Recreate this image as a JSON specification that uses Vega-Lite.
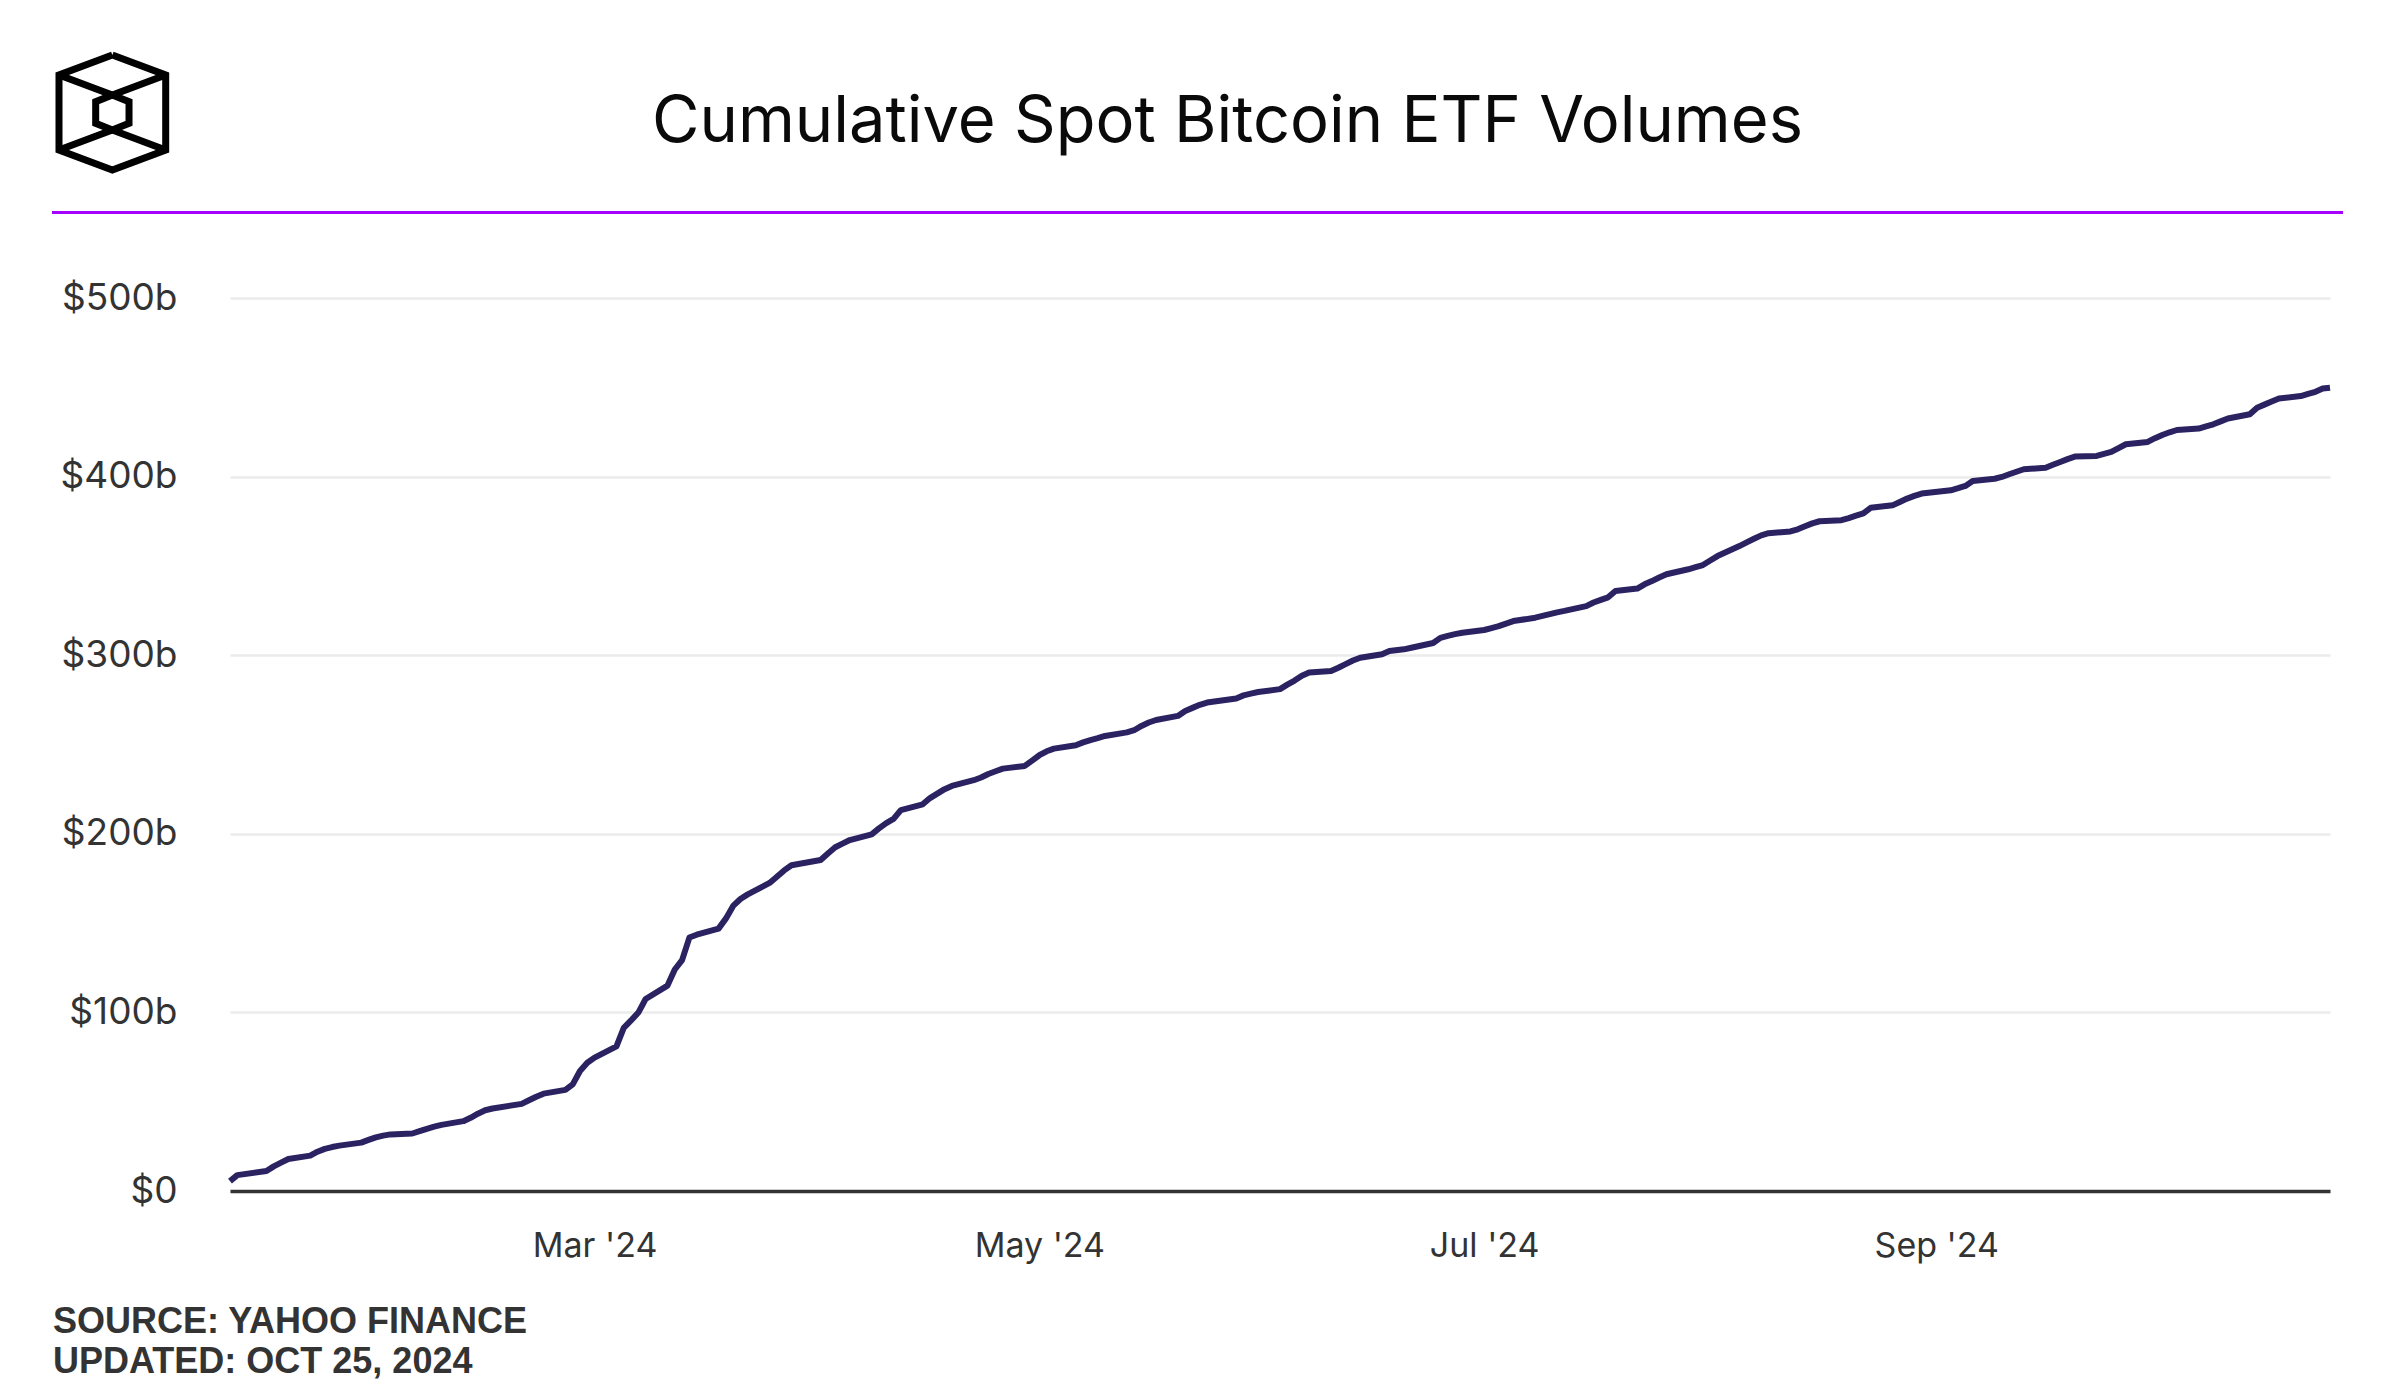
{
  "$schema": "https://vega.github.io/schema/vega-lite/v6.json",
  "padding": {"left": 45, "top": 41, "right": 0, "bottom": 0},
  "autosize": {"type": "pad"},
  "background": "white",
  "config": {"view": {"stroke": null}},
  "spacing": 26.5,
  "align": "none",
  "datasets": {
    "logo": [
      {"path": "outer", "i": 0, "x": 8, "y": 0},
      {"path": "outer", "i": 1, "x": 16, "y": 3},
      {"path": "outer", "i": 2, "x": 16, "y": 14.25},
      {"path": "outer", "i": 3, "x": 8, "y": 17.25},
      {"path": "outer", "i": 4, "x": 0, "y": 14.25},
      {"path": "outer", "i": 5, "x": 0, "y": 3},
      {"path": "outer", "i": 6, "x": 8, "y": 0},
      {"path": "topv", "i": 0, "x": 0, "y": 3},
      {"path": "topv", "i": 1, "x": 8, "y": 6},
      {"path": "topv", "i": 2, "x": 16, "y": 3},
      {"path": "botv", "i": 0, "x": 0, "y": 14.25},
      {"path": "botv", "i": 1, "x": 8, "y": 11.25},
      {"path": "botv", "i": 2, "x": 16, "y": 14.25},
      {"path": "inner", "i": 0, "x": 8, "y": 6},
      {"path": "inner", "i": 1, "x": 10.5, "y": 7},
      {"path": "inner", "i": 2, "x": 10.5, "y": 10.25},
      {"path": "inner", "i": 3, "x": 8, "y": 11.25},
      {"path": "inner", "i": 4, "x": 5.5, "y": 10.25},
      {"path": "inner", "i": 5, "x": 5.5, "y": 7},
      {"path": "inner", "i": 6, "x": 8, "y": 6}
    ],
    "etf": [
      {"date": "2024-01-11", "volume": 5.5},
      {"date": "2024-01-12", "volume": 8.9},
      {"date": "2024-01-16", "volume": 11.2},
      {"date": "2024-01-17", "volume": 13.8},
      {"date": "2024-01-18", "volume": 15.9},
      {"date": "2024-01-19", "volume": 17.9},
      {"date": "2024-01-22", "volume": 19.8},
      {"date": "2024-01-23", "volume": 22.0},
      {"date": "2024-01-24", "volume": 23.6},
      {"date": "2024-01-25", "volume": 24.6},
      {"date": "2024-01-26", "volume": 25.4},
      {"date": "2024-01-29", "volume": 27.1},
      {"date": "2024-01-30", "volume": 28.6},
      {"date": "2024-01-31", "volume": 30.0},
      {"date": "2024-02-01", "volume": 31.0},
      {"date": "2024-02-02", "volume": 31.7},
      {"date": "2024-02-05", "volume": 32.2},
      {"date": "2024-02-06", "volume": 33.5},
      {"date": "2024-02-07", "volume": 34.8},
      {"date": "2024-02-08", "volume": 36.0},
      {"date": "2024-02-09", "volume": 37.0},
      {"date": "2024-02-12", "volume": 39.1},
      {"date": "2024-02-13", "volume": 41.0},
      {"date": "2024-02-14", "volume": 43.3},
      {"date": "2024-02-15", "volume": 45.2},
      {"date": "2024-02-16", "volume": 46.2},
      {"date": "2024-02-20", "volume": 48.8},
      {"date": "2024-02-21", "volume": 50.8},
      {"date": "2024-02-22", "volume": 52.8},
      {"date": "2024-02-23", "volume": 54.5},
      {"date": "2024-02-26", "volume": 56.6},
      {"date": "2024-02-27", "volume": 59.7},
      {"date": "2024-02-28", "volume": 67.2},
      {"date": "2024-02-29", "volume": 71.8},
      {"date": "2024-03-01", "volume": 74.7},
      {"date": "2024-03-04", "volume": 81.0},
      {"date": "2024-03-05", "volume": 91.3},
      {"date": "2024-03-06", "volume": 95.5},
      {"date": "2024-03-07", "volume": 99.9},
      {"date": "2024-03-08", "volume": 107.5},
      {"date": "2024-03-11", "volume": 115.0},
      {"date": "2024-03-12", "volume": 124.0},
      {"date": "2024-03-13", "volume": 129.3},
      {"date": "2024-03-14", "volume": 141.9},
      {"date": "2024-03-15", "volume": 143.5},
      {"date": "2024-03-18", "volume": 146.9},
      {"date": "2024-03-19", "volume": 152.5},
      {"date": "2024-03-20", "volume": 159.6},
      {"date": "2024-03-21", "volume": 163.5},
      {"date": "2024-03-22", "volume": 166.1},
      {"date": "2024-03-25", "volume": 172.5},
      {"date": "2024-03-26", "volume": 176.0},
      {"date": "2024-03-27", "volume": 179.5},
      {"date": "2024-03-28", "volume": 182.4},
      {"date": "2024-04-01", "volume": 185.3},
      {"date": "2024-04-02", "volume": 189.0},
      {"date": "2024-04-03", "volume": 192.5},
      {"date": "2024-04-04", "volume": 194.5},
      {"date": "2024-04-05", "volume": 196.5},
      {"date": "2024-04-08", "volume": 199.7},
      {"date": "2024-04-09", "volume": 203.0},
      {"date": "2024-04-10", "volume": 206.0},
      {"date": "2024-04-11", "volume": 208.3},
      {"date": "2024-04-12", "volume": 213.3},
      {"date": "2024-04-15", "volume": 216.5},
      {"date": "2024-04-16", "volume": 220.0},
      {"date": "2024-04-17", "volume": 222.5},
      {"date": "2024-04-18", "volume": 225.0},
      {"date": "2024-04-19", "volume": 226.8},
      {"date": "2024-04-22", "volume": 230.0},
      {"date": "2024-04-23", "volume": 231.5},
      {"date": "2024-04-24", "volume": 233.5},
      {"date": "2024-04-25", "volume": 235.0},
      {"date": "2024-04-26", "volume": 236.5},
      {"date": "2024-04-29", "volume": 238.0},
      {"date": "2024-04-30", "volume": 241.0},
      {"date": "2024-05-01", "volume": 244.0},
      {"date": "2024-05-02", "volume": 246.2},
      {"date": "2024-05-03", "volume": 247.7},
      {"date": "2024-05-06", "volume": 249.6},
      {"date": "2024-05-07", "volume": 251.2},
      {"date": "2024-05-08", "volume": 252.5},
      {"date": "2024-05-09", "volume": 253.6},
      {"date": "2024-05-10", "volume": 254.8},
      {"date": "2024-05-13", "volume": 256.8},
      {"date": "2024-05-14", "volume": 258.0},
      {"date": "2024-05-15", "volume": 260.4},
      {"date": "2024-05-16", "volume": 262.3},
      {"date": "2024-05-17", "volume": 263.7},
      {"date": "2024-05-20", "volume": 266.0},
      {"date": "2024-05-21", "volume": 268.8},
      {"date": "2024-05-22", "volume": 270.5},
      {"date": "2024-05-23", "volume": 272.2},
      {"date": "2024-05-24", "volume": 273.5},
      {"date": "2024-05-28", "volume": 275.8},
      {"date": "2024-05-29", "volume": 277.5},
      {"date": "2024-05-30", "volume": 278.5},
      {"date": "2024-05-31", "volume": 279.4},
      {"date": "2024-06-03", "volume": 281.0},
      {"date": "2024-06-04", "volume": 283.5},
      {"date": "2024-06-05", "volume": 285.8},
      {"date": "2024-06-06", "volume": 288.5},
      {"date": "2024-06-07", "volume": 290.3},
      {"date": "2024-06-10", "volume": 291.2},
      {"date": "2024-06-11", "volume": 293.0},
      {"date": "2024-06-12", "volume": 295.0},
      {"date": "2024-06-13", "volume": 297.0},
      {"date": "2024-06-14", "volume": 298.6},
      {"date": "2024-06-17", "volume": 300.5},
      {"date": "2024-06-18", "volume": 302.3},
      {"date": "2024-06-20", "volume": 303.3},
      {"date": "2024-06-21", "volume": 304.2},
      {"date": "2024-06-24", "volume": 306.8},
      {"date": "2024-06-25", "volume": 309.7},
      {"date": "2024-06-26", "volume": 310.8},
      {"date": "2024-06-27", "volume": 311.8},
      {"date": "2024-06-28", "volume": 312.6},
      {"date": "2024-07-01", "volume": 314.1},
      {"date": "2024-07-02", "volume": 315.2},
      {"date": "2024-07-03", "volume": 316.3},
      {"date": "2024-07-05", "volume": 319.1},
      {"date": "2024-07-08", "volume": 321.0},
      {"date": "2024-07-09", "volume": 322.0},
      {"date": "2024-07-10", "volume": 323.0},
      {"date": "2024-07-11", "volume": 324.0},
      {"date": "2024-07-12", "volume": 324.8},
      {"date": "2024-07-15", "volume": 327.5},
      {"date": "2024-07-16", "volume": 329.5},
      {"date": "2024-07-17", "volume": 331.0},
      {"date": "2024-07-18", "volume": 332.4},
      {"date": "2024-07-19", "volume": 335.9},
      {"date": "2024-07-22", "volume": 337.3},
      {"date": "2024-07-23", "volume": 339.7},
      {"date": "2024-07-24", "volume": 341.5},
      {"date": "2024-07-25", "volume": 343.5},
      {"date": "2024-07-26", "volume": 345.3},
      {"date": "2024-07-29", "volume": 348.1},
      {"date": "2024-07-30", "volume": 349.3},
      {"date": "2024-07-31", "volume": 350.5},
      {"date": "2024-08-01", "volume": 353.0},
      {"date": "2024-08-02", "volume": 355.5},
      {"date": "2024-08-05", "volume": 361.1},
      {"date": "2024-08-06", "volume": 363.2},
      {"date": "2024-08-07", "volume": 365.2},
      {"date": "2024-08-08", "volume": 367.1},
      {"date": "2024-08-09", "volume": 368.3},
      {"date": "2024-08-12", "volume": 369.3},
      {"date": "2024-08-13", "volume": 370.5},
      {"date": "2024-08-14", "volume": 372.2},
      {"date": "2024-08-15", "volume": 373.8},
      {"date": "2024-08-16", "volume": 375.0},
      {"date": "2024-08-19", "volume": 375.6},
      {"date": "2024-08-20", "volume": 376.8},
      {"date": "2024-08-21", "volume": 378.1},
      {"date": "2024-08-22", "volume": 379.4},
      {"date": "2024-08-23", "volume": 382.5},
      {"date": "2024-08-26", "volume": 383.9},
      {"date": "2024-08-27", "volume": 385.8},
      {"date": "2024-08-28", "volume": 387.7},
      {"date": "2024-08-29", "volume": 389.2},
      {"date": "2024-08-30", "volume": 390.5},
      {"date": "2024-09-03", "volume": 392.3},
      {"date": "2024-09-04", "volume": 393.5},
      {"date": "2024-09-05", "volume": 394.8},
      {"date": "2024-09-06", "volume": 397.5},
      {"date": "2024-09-09", "volume": 398.8},
      {"date": "2024-09-10", "volume": 399.8},
      {"date": "2024-09-11", "volume": 401.3},
      {"date": "2024-09-12", "volume": 402.7},
      {"date": "2024-09-13", "volume": 404.1},
      {"date": "2024-09-16", "volume": 405.0},
      {"date": "2024-09-17", "volume": 406.6},
      {"date": "2024-09-18", "volume": 408.2},
      {"date": "2024-09-19", "volume": 409.8},
      {"date": "2024-09-20", "volume": 411.2},
      {"date": "2024-09-23", "volume": 411.6},
      {"date": "2024-09-24", "volume": 412.7},
      {"date": "2024-09-25", "volume": 413.8},
      {"date": "2024-09-26", "volume": 416.0},
      {"date": "2024-09-27", "volume": 418.1},
      {"date": "2024-09-30", "volume": 419.4},
      {"date": "2024-10-01", "volume": 421.5},
      {"date": "2024-10-02", "volume": 423.3},
      {"date": "2024-10-03", "volume": 424.8},
      {"date": "2024-10-04", "volume": 426.1},
      {"date": "2024-10-07", "volume": 426.9},
      {"date": "2024-10-08", "volume": 428.1},
      {"date": "2024-10-09", "volume": 429.3},
      {"date": "2024-10-10", "volume": 430.9},
      {"date": "2024-10-11", "volume": 432.5},
      {"date": "2024-10-14", "volume": 434.9},
      {"date": "2024-10-15", "volume": 438.6},
      {"date": "2024-10-16", "volume": 440.3},
      {"date": "2024-10-17", "volume": 442.0},
      {"date": "2024-10-18", "volume": 443.7},
      {"date": "2024-10-21", "volume": 445.1},
      {"date": "2024-10-22", "volume": 446.3},
      {"date": "2024-10-23", "volume": 447.5},
      {"date": "2024-10-24", "volume": 449.3},
      {"date": "2024-10-25", "volume": 449.8}
    ]
  },
  "vconcat": [
    {
      "spacing": 0,
      "hconcat": [
        {
          "width": 113.7,
          "height": 115,
          "data": {"name": "logo"},
          "mark": {"type": "line", "color": "#000000", "strokeWidth": 7, "strokeJoin": "miter", "strokeCap": "butt"},
          "encoding": {
            "x": {"field": "x", "type": "quantitative", "scale": {"domain": [-1.05, 16], "nice": false, "zero": false}, "axis": null},
            "y": {"field": "y", "type": "quantitative", "scale": {"domain": [0, 17.25], "nice": false, "zero": false, "reverse": true}, "axis": null},
            "detail": {"field": "path", "type": "nominal"},
            "order": {"field": "i", "type": "quantitative"}
          }
        },
        {
          "width": 2095,
          "height": 115,
          "data": {"values": [{"title": "Cumulative Spot Bitcoin ETF Volumes"}]},
          "mark": {"type": "text", "font": "Inter", "fontSize": 65, "fontWeight": 400, "color": "#0a0a0a", "baseline": "alphabetic", "align": "center", "dy": 29},
          "encoding": {
            "text": {"field": "title", "type": "nominal"}
          }
        }
      ]
    },
    {
      "width": 2291,
      "height": 40,
      "data": {"values": [{"item": "header divider"}]},
      "mark": {"type": "rule", "color": "#a600ff", "strokeWidth": 3},
      "encoding": {
        "y": {"datum": 1, "type": "quantitative", "scale": {"domain": [0, 1]}, "axis": null}
      }
    },
    {
      "spacing": 0,
      "hconcat": [
        {
          "width": 1,
          "height": 1,
          "data": {"values": [{"item": "spacer"}]},
          "mark": {"type": "text", "text": ""},
          "encoding": {}
        },
        {
          "width": 2100,
          "height": 893,
          "data": {"name": "etf"},
          "title": {
            "text": ["SOURCE: YAHOO FINANCE", "UPDATED: OCT 25, 2024"],
            "orient": "bottom",
            "anchor": "start",
            "frame": "bounds",
            "font": "Liberation Sans",
            "fontSize": 36,
            "fontWeight": "bold",
            "color": "#333333",
            "lineHeight": 40.4,
            "offset": 42
          },
          "mark": {"type": "line", "color": "#2b2262", "strokeWidth": 6, "strokeJoin": "round", "strokeCap": "butt"},
          "encoding": {
            "x": {
              "field": "date",
              "type": "temporal",
              "scale": {"type": "utc", "domain": [{"year": 2024, "month": 1, "date": 11, "utc": true}, {"year": 2024, "month": 10, "date": 25, "utc": true}]},
              "axis": {
                "title": null,
                "values": [
                  {"year": 2024, "month": 3, "date": 1, "utc": true},
                  {"year": 2024, "month": 5, "date": 1, "utc": true},
                  {"year": 2024, "month": 7, "date": 1, "utc": true},
                  {"year": 2024, "month": 9, "date": 1, "utc": true}
                ],
                "format": "%b '%y",
                "grid": false,
                "ticks": false,
                "tickSize": 0,
                "labelFont": "Inter",
                "labelFontSize": 34,
                "labelColor": "#333333",
                "labelPadding": 38,
                "domainColor": "#333333",
                "domainWidth": 3.5
              }
            },
            "y": {
              "field": "volume",
              "type": "quantitative",
              "scale": {"domain": [0, 500], "nice": false},
              "axis": {
                "title": null,
                "values": [0, 100, 200, 300, 400, 500],
                "labelExpr": "datum.value == 0 ? '$0' : '$' + datum.value + 'b'",
                "domain": false,
                "ticks": false,
                "tickSize": 0,
                "labelFont": "Inter",
                "labelFontSize": 37,
                "labelColor": "#333333",
                "labelPadding": 53,
                "minExtent": 177,
                "maxExtent": 177,
                "gridColor": "#ebebeb",
                "gridWidth": 2.5
              }
            }
          }
        }
      ]
    }
  ]
}
